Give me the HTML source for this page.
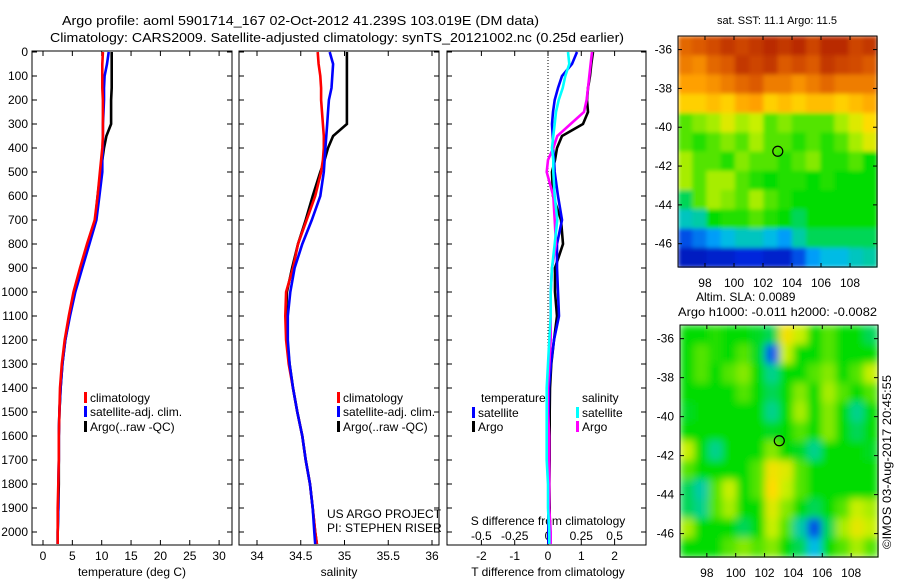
<!DOCTYPE html>
<html><head><meta charset="utf-8"><style>
body{margin:0;background:#fff}
svg{display:block;font-family:"Liberation Sans",sans-serif;font-size:12px}
</style></head><body>
<svg id="c" width="900" height="580" xmlns="http://www.w3.org/2000/svg">
<defs>
<filter id="blur" x="0" y="0" width="1" height="1" filterUnits="objectBoundingBox"><feGaussianBlur stdDeviation="4" edgeMode="duplicate"/></filter>
<filter id="blur2" x="0" y="0" width="1" height="1" filterUnits="objectBoundingBox"><feGaussianBlur stdDeviation="2" edgeMode="duplicate"/></filter>
</defs>
<rect width="900" height="580" fill="#fff"/>
<text x="62" y="25" font-size="13" textLength="477" lengthAdjust="spacingAndGlyphs">Argo profile: aoml 5901714_167 02-Oct-2012 41.239S 103.019E (DM data)</text>
<text x="50" y="42" font-size="13" textLength="574" lengthAdjust="spacingAndGlyphs">Climatology: CARS2009. Satellite-adjusted climatology: synTS_20121002.nc (0.25d earlier)</text>
<text x="777" y="24" text-anchor="middle" font-size="11">sat. SST: 11.1 Argo: 11.5</text>
<text x="696" y="301">Altim. SLA: 0.0089</text>
<text x="678" y="316" textLength="199" lengthAdjust="spacingAndGlyphs">Argo h1000: -0.011 h2000: -0.0082</text>
<text transform="translate(891,549) rotate(-90)" textLength="174" lengthAdjust="spacingAndGlyphs">©IMOS 03-Aug-2017 20:45:55</text>
<text x="327" y="518">US ARGO PROJECT</text>
<text x="327" y="532">PI: STEPHEN RISER</text>
<g id="g"></g>
</svg>
<script>
// depth levels (dbar)
const depths=[0,50,100,150,200,250,300,350,400,450,500,600,700,800,900,1000,1100,1200,1300,1400,1500,1600,1700,1800,1900,2000,2050];
// temperature (deg C)
const tClim=[10.2,10.1,10.1,10.1,10.2,10.2,10.2,10.2,10.1,9.9,9.7,9.3,8.8,7.5,6.3,5.2,4.4,3.7,3.2,2.9,2.8,2.7,2.7,2.6,2.5,2.5,2.5];
const tSat=[11.2,10.9,10.5,10.4,10.4,10.3,10.2,10.2,10.2,10.1,10.1,9.6,9.1,7.9,6.7,5.5,4.6,3.8,3.3,3.0,2.8,2.7,2.7,2.6,2.6,2.5,2.5];
const tArgo=[11.7,11.7,11.7,11.7,11.6,11.6,11.6,10.8,10.4,10.1,9.8,9.3,8.9,7.6,6.4,5.3,4.5,3.8,3.3,3.0,2.8,2.7,2.7,2.7,2.6,2.5,2.5];
// salinity
const sClim=[34.694,34.704,34.724,34.733,34.733,34.743,34.753,34.763,34.763,34.753,34.733,34.665,34.567,34.469,34.411,34.333,34.323,34.333,34.362,34.411,34.46,34.518,34.557,34.606,34.636,34.665,34.685];
const sSat=[34.831,34.87,34.861,34.851,34.822,34.812,34.802,34.792,34.782,34.773,34.763,34.724,34.626,34.518,34.43,34.381,34.352,34.352,34.372,34.411,34.46,34.518,34.557,34.606,34.636,34.655,34.665];
const sArgo=[35.027,35.027,35.027,35.027,35.027,35.027,35.027,34.87,34.812,34.773,34.724,34.636,34.557,34.469,34.401,34.342,34.333,34.342,34.372,34.411,34.46,34.518,34.557,34.606,34.636,34.665,34.685];
// differences from climatology
const dTsat=[0.87,0.72,0.42,0.30,0.20,0.15,0.12,0.14,0.15,0.18,0.20,0.30,0.42,0.27,0.27,0.30,0.33,0.18,0.09,0.03,0.02,0.01,0.01,0.02,0.01,0.01,0.01];
const dTargo=[1.35,1.30,1.26,1.20,1.17,1.20,1.05,0.42,0.27,0.21,0.12,0.15,0.39,0.45,0.21,0.21,0.27,0.18,0.10,0.06,0.05,0.05,0.05,0.04,0.05,0.05,0.05];
const dSsat=[0.15,0.16,0.13,0.11,0.08,0.06,0.05,0.04,0.03,0.04,0.04,0.05,0.07,0.05,0.03,0.02,0.02,0.01,0.0,-0.01,-0.01,-0.01,-0.01,0.0,0.0,0.01,0.01];
const dSargo=[0.33,0.32,0.31,0.30,0.29,0.27,0.17,0.07,0.04,0.0,-0.01,0.04,0.05,0.06,0.03,0.02,0.02,0.02,0.01,0.0,0.0,0.01,0.01,0.01,0.01,0.02,0.02];
// tick labels
const depthTicks=[0,100,200,300,400,500,600,700,800,900,1000,1100,1200,1300,1400,1500,1600,1700,1800,1900,2000];
const tTicks=[0,5,10,15,20,25,30];
const sTicks=[34,34.5,35,35.5,36];
const dTTicks=[-2,-1,0,1,2];
const dSTicks=[-0.5,-0.25,0,0.25,0.5];
const dSTickLabels=["-0.5","-0.25","0","0.25","0.5"];
const latTicks=[-36,-38,-40,-42,-44,-46];
const lonTicks=[98,100,102,104,106,108];
// map grids (normalised 0..1), rows north->south, cols west->east
const sstGrid=[
[0.88,0.9,0.92,0.95,0.93,0.95,0.97,0.95,0.97,0.93,0.97,0.97,0.93,0.95],
[0.85,0.83,0.88,0.9,0.95,0.93,0.95,0.9,0.92,0.9,0.95,0.93,0.92,0.9],
[0.8,0.8,0.82,0.85,0.88,0.9,0.85,0.85,0.82,0.85,0.88,0.85,0.85,0.85],
[0.72,0.72,0.75,0.72,0.78,0.8,0.72,0.75,0.72,0.75,0.75,0.72,0.75,0.78],
[0.55,0.58,0.6,0.65,0.6,0.62,0.55,0.58,0.55,0.55,0.55,0.6,0.65,0.7],
[0.55,0.52,0.55,0.58,0.55,0.6,0.55,0.55,0.52,0.55,0.52,0.55,0.6,0.65],
[0.6,0.55,0.55,0.52,0.58,0.55,0.55,0.52,0.55,0.58,0.52,0.52,0.55,0.5],
[0.6,0.55,0.6,0.6,0.55,0.52,0.5,0.52,0.52,0.5,0.52,0.5,0.5,0.5],
[0.45,0.55,0.6,0.58,0.55,0.6,0.55,0.52,0.5,0.5,0.5,0.5,0.5,0.5],
[0.38,0.4,0.5,0.52,0.52,0.55,0.52,0.5,0.45,0.5,0.5,0.5,0.5,0.5],
[0.2,0.25,0.3,0.35,0.38,0.38,0.35,0.3,0.4,0.45,0.45,0.45,0.45,0.45],
[0.1,0.1,0.12,0.12,0.15,0.15,0.12,0.12,0.2,0.3,0.35,0.35,0.38,0.4]];
const slaGrid=[
[0.5,0.5,0.52,0.5,0.5,0.48,0.45,0.68,0.62,0.5,0.55,0.5,0.5,0.45],
[0.5,0.55,0.52,0.5,0.55,0.48,0.22,0.62,0.5,0.5,0.55,0.5,0.5,0.5],
[0.5,0.55,0.5,0.55,0.58,0.5,0.42,0.5,0.5,0.55,0.58,0.5,0.55,0.62],
[0.5,0.5,0.5,0.5,0.55,0.5,0.45,0.5,0.58,0.5,0.6,0.55,0.5,0.55],
[0.48,0.5,0.5,0.5,0.5,0.5,0.42,0.5,0.6,0.5,0.58,0.5,0.42,0.5],
[0.5,0.5,0.5,0.5,0.5,0.5,0.48,0.5,0.55,0.5,0.58,0.5,0.45,0.5],
[0.62,0.5,0.42,0.5,0.5,0.5,0.58,0.5,0.48,0.42,0.5,0.5,0.5,0.48],
[0.55,0.5,0.5,0.5,0.5,0.55,0.68,0.65,0.55,0.5,0.5,0.5,0.5,0.5],
[0.45,0.4,0.55,0.62,0.5,0.55,0.7,0.62,0.55,0.5,0.5,0.5,0.5,0.5],
[0.45,0.42,0.55,0.6,0.5,0.5,0.65,0.58,0.5,0.45,0.5,0.55,0.62,0.6],
[0.6,0.5,0.5,0.5,0.45,0.5,0.62,0.55,0.4,0.2,0.45,0.6,0.66,0.62],
[0.5,0.5,0.5,0.55,0.58,0.55,0.58,0.5,0.45,0.35,0.5,0.55,0.6,0.55]];
const floatLon=103.019, floatLat=-41.239;

const NS="http://www.w3.org/2000/svg";
const G=document.getElementById('g');
function el(tag,attrs,parent,text){const e=document.createElementNS(NS,tag);for(const k in attrs)e.setAttribute(k,attrs[k]);if(text!==undefined)e.textContent=text;(parent||G).appendChild(e);return e;}
const yD=d=>52+0.24*d;
const TOP=51,BOT=545;
const panels=[{x0:32,x1:232},{x0:239,x1:439},{x0:447,x1:646}];
const xT=t=>43+5.87*t;
const xS=s=>257+87.5*(s-34);
const xdT=v=>548+33.3*v;
const xdS=v=>548+133.2*v;
function line(xs,xf,col,name){
  const pts=depths.map((d,i)=>xf(xs[i]).toFixed(1)+','+yD(d).toFixed(1)).join(' ');
  const p=el('polyline',{points:pts,fill:'none',stroke:col,'stroke-width':2.6,'stroke-linejoin':'miter'});
  
  
}
panels.forEach((p,i)=>{
  const r=el('rect',{x:p.x0,y:TOP,width:p.x1-p.x0,height:BOT-TOP,fill:'none',stroke:'#000','stroke-width':1});
  
  
  depthTicks.forEach(d=>{
    el('line',{x1:p.x0,x2:p.x0+5,y1:yD(d),y2:yD(d),stroke:'#000'});
    el('line',{x1:p.x1,x2:p.x1-5,y1:yD(d),y2:yD(d),stroke:'#000'});
  });
});
depthTicks.forEach(d=>{
  const t=el('text',{x:28,y:yD(d)+4,'text-anchor':'end'},G,String(d));
  
  
});
function xticks(vals,labels,f,p,y){
  vals.forEach((v,i)=>{
    el('line',{x1:f(v),x2:f(v),y1:TOP,y2:TOP+5,stroke:'#000'});
    el('line',{x1:f(v),x2:f(v),y1:BOT,y2:BOT-5,stroke:'#000'});
    const t=el('text',{x:f(v),y:y,'text-anchor':'middle'},G,labels[i]);
    
    
  });
}
xticks(tTicks,tTicks.map(String),xT,panels[0],560);
xticks(sTicks,sTicks.map(String),xS,panels[1],560);
xticks(dTTicks,dTTicks.map(String),xdT,panels[2],560);
dSTicks.forEach((v,i)=>{const t=el('text',{x:xdS(v),y:540,'text-anchor':'middle'},G,dSTickLabels[i]);
  
  });
[[132,'temperature (deg C)','temperature-axis-title'],[339,'salinity','salinity-axis-title'],[548,'T difference from climatology','t-diff-axis-title']].forEach(a=>{
  const t=el('text',{x:a[0],y:576,'text-anchor':'middle'},G,a[1]);
  
  
});
{const t=el('text',{x:548,y:525,'text-anchor':'middle'},G,'S difference from climatology');

}
{const z=el('line',{x1:xdT(0),x2:xdT(0),y1:TOP,y2:BOT,stroke:'#000','stroke-dasharray':'1,2'});

}
line(tArgo,xT,'#000','temp-argo-line');
line(tSat,xT,'#0000ff','temp-satellite-line');
line(tClim,xT,'#ff0000','temp-climatology-line');
line(sArgo,xS,'#000','sal-argo-line');
line(sClim,xS,'#ff0000','sal-climatology-line');
line(sSat,xS,'#0000ff','sal-satellite-line');
line(dTargo,xdT,'#000','tdiff-argo-line');
line(dTsat,xdT,'#0000ff','tdiff-satellite-line');
line(dSargo,xdS,'#ff00ff','sdiff-argo-line');
line(dSsat,xdS,'#00ffff','sdiff-satellite-line');
function leg(x,y,col,label,name){
  el('rect',{x:x,y:y-10,width:3,height:11,fill:col});
  const t=el('text',{x:x+6,y:y},G,label);
  
  
}
leg(84,402,'#ff0000','climatology','legend-climatology');
leg(84,416,'#0000ff','satellite-adj. clim.','legend-satellite');
leg(84,431,'#000','Argo(..raw -QC)','legend-argo');
leg(337,402,'#ff0000','climatology','legend2-climatology');
leg(337,416,'#0000ff','satellite-adj. clim.','legend2-satellite');
leg(337,431,'#000','Argo(..raw -QC)','legend2-argo');
{const t=el('text',{x:481,y:402},G,'temperature');
const u=el('text',{x:582,y:402},G,'salinity');}
leg(472,417,'#0000ff','satellite','legend-t-satellite');
leg(472,431,'#000','Argo','legend-t-argo');
leg(576,417,'#00ffff','satellite','legend-s-satellite');
leg(576,431,'#ff00ff','Argo','legend-s-argo');
function jet(v){
  const stops=[[0,[0,0,140]],[0.15,[0,40,220]],[0.33,[0,180,255]],[0.42,[0,210,140]],[0.5,[0,220,0]],[0.62,[200,240,0]],[0.7,[255,220,0]],[0.8,[255,160,0]],[0.9,[220,90,0]],[1,[170,20,0]]];
  for(let i=1;i<stops.length;i++){if(v<=stops[i][0]){const a=stops[i-1],b=stops[i],f=(v-a[0])/(b[0]-a[0]);
    return 'rgb('+a[1].map((c,k)=>Math.round(c+(b[1][k]-c)*f)).join(',')+')';}}
  return 'rgb(170,20,0)';
}
const LON0=96.14,LON1=109.86,LAT0=-35.3,LAT1=-47.2;
function drawMap(grid,x0,x1,y0,y1,name,filt){
  const mx=lon=>x0+(lon-LON0)/(LON1-LON0)*(x1-x0);
  const my=lat=>y0+(lat-LAT0)/(LAT1-LAT0)*(y1-y0);
  const g=el('g',{});
  
  
  const cells=el('g',{filter:'url(#'+filt+')'},g);
  const nr=grid.length,nc=grid[0].length;
  const dLon=(LON1-LON0)/nc,dLat=(LAT1-LAT0)/nr;
  grid.forEach((row,r)=>row.forEach((v,c)=>{
    const xa=mx(LON0+c*dLon),xb=mx(LON0+(c+1)*dLon),ya=my(LAT0+r*dLat),yb=my(LAT0+(r+1)*dLat);
    const cell=el('rect',{x:xa.toFixed(1),y:ya.toFixed(1),width:(xb-xa+0.6).toFixed(1),height:(yb-ya+0.6).toFixed(1),fill:jet(v)},cells);
    
    
  }));
  el('rect',{x:x0,y:y0,width:x1-x0,height:y1-y0,fill:'none',stroke:'#000'},g);
  latTicks.forEach(l=>{
    el('line',{x1:x0,x2:x0+4,y1:my(l),y2:my(l),stroke:'#000'},g);
    el('line',{x1:x1,x2:x1-4,y1:my(l),y2:my(l),stroke:'#000'},g);
    const t=el('text',{x:x0-6,y:my(l)+4,'text-anchor':'end'},g,String(l));
    
    
  });
  lonTicks.forEach(l=>{
    el('line',{x1:mx(l),x2:mx(l),y1:y0,y2:y0+4,stroke:'#000'},g);
    el('line',{x1:mx(l),x2:mx(l),y1:y1,y2:y1-4,stroke:'#000'},g);
    const t=el('text',{x:mx(l),y:y1+20,'text-anchor':'middle'},g,String(l));
    
    
  });
  const c=el('circle',{cx:mx(floatLon),cy:my(floatLat),r:5,fill:'none',stroke:'#000','stroke-width':1.2},g);
  
  
}
drawMap(sstGrid,678,877,36,267,'sst-map','blur2');
drawMap(slaGrid,680,878,325,557,'sla-map','blur');
</script>
</body></html>
